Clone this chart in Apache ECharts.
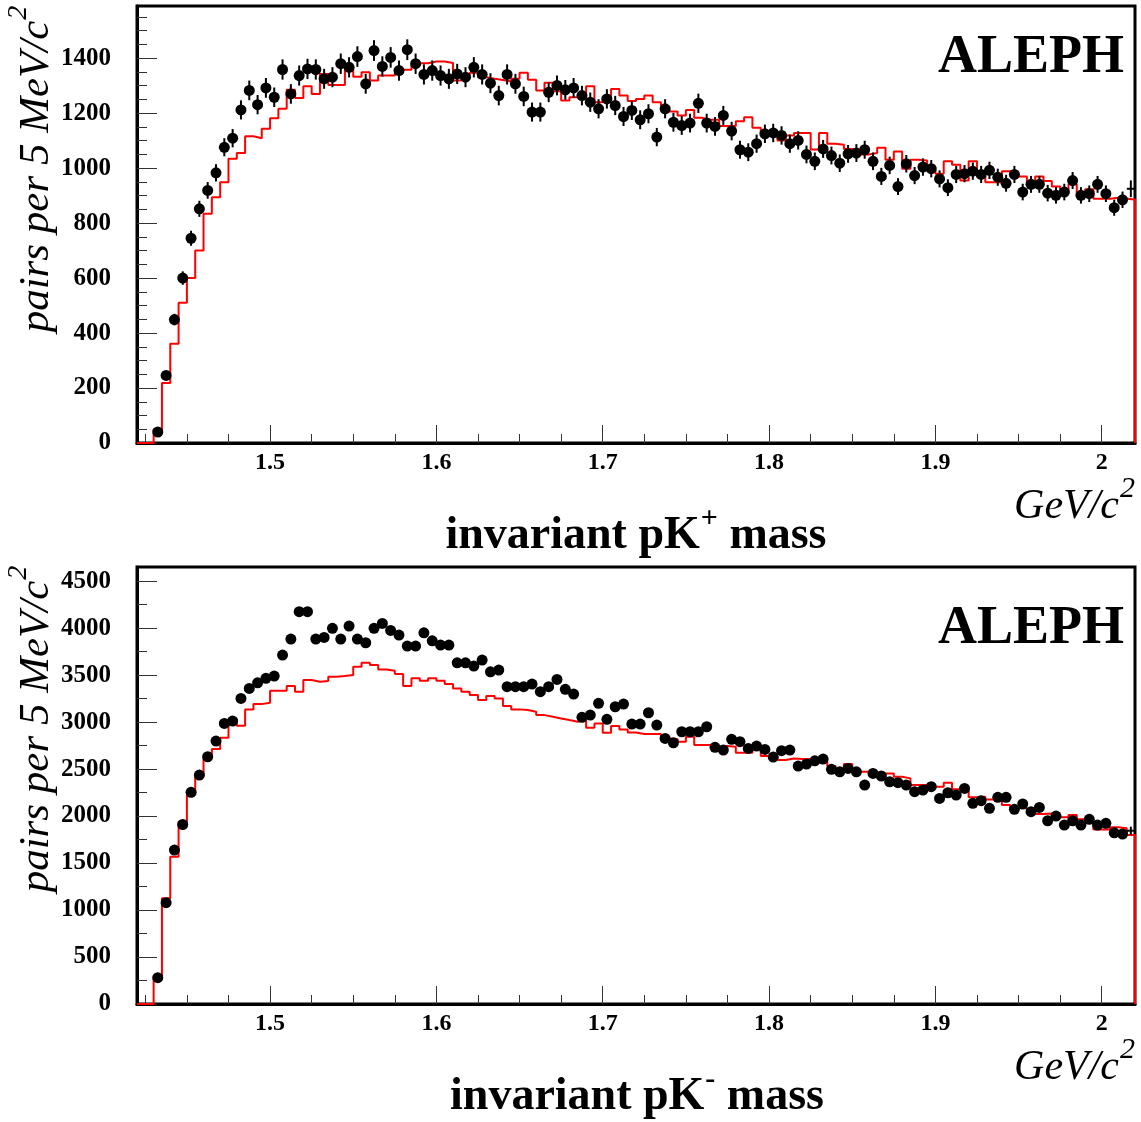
<!DOCTYPE html>
<html><head><meta charset="utf-8">
<script src="https://cdn.jsdelivr.net/npm/echarts@6/dist/echarts.min.js"></script>
<style>html,body{margin:0;padding:0;background:#fff}#c{width:1141px;height:1122px}</style>
</head><body><div id="c"></div>
<script>
// ---- data (5 MeV bins from 1.42 to 2.02 GeV/c^2) ----
const binLow = 1.42;
const binWidth = 0.005;
const xMajorTicks = [1.5, 1.6, 1.7, 1.8, 1.9, 2.0];
const topYTicks = [0, 200, 400, 600, 800, 1000, 1200, 1400];
const botYTicks = [0, 500, 1000, 1500, 2000, 2500, 3000, 3500, 4000, 4500];

const topData = [0,0,40,246,449,600,745,852,919,983,1076,1109,1212,1283,1231,1292,1258,1359,1270,1337,1361,1359,1325,1331,1380,1367,1406,1307,1428,1370,1403,1355,1431,1380,1341,1355,1337,1325,1343,1331,1367,1341,1309,1264,1341,1307,1261,1204,1204,1276,1301,1285,1292,1264,1240,1216,1252,1228,1188,1210,1176,1198,1113,1216,1167,1155,1164,1236,1164,1152,1192,1135,1067,1058,1089,1125,1128,1119,1089,1101,1050,1025,1070,1046,1018,1052,1055,1067,1025,970,1010,933,1016,973,1004,998,961,929,977,980,989,977,992,967,945,977,913,941,941,909,901,913,955,901,907,941,907,856,885,925];
const topMC = [0,0,49,218,361,510,600,700,834,894,949,1034,1055,1116,1109,1143,1182,1216,1285,1255,1298,1270,1343,1303,1303,1367,1333,1349,1319,1337,1337,1346,1358,1373,1382,1388,1388,1383,1319,1337,1347,1331,1325,1321,1315,1325,1347,1322,1283,1311,1280,1246,1258,1261,1298,1240,1261,1288,1264,1244,1252,1264,1240,1224,1206,1192,1212,1183,1176,1176,1153,1153,1171,1185,1147,1128,1121,1101,1119,1128,1128,1068,1128,1089,1085,1070,1064,1050,1055,1074,1031,1061,998,1031,1028,992,980,1025,1012,955,1025,970,949,949,989,982,970,937,970,953,933,909,941,901,923,889,889,892,889,886];
const botData = [0,0,280,1078,1638,1910,2252,2436,2631,2798,2986,3011,3252,3358,3418,3465,3489,3713,3883,4174,4174,3883,3901,3997,3883,4021,3883,3844,3997,4050,3975,3926,3809,3809,3950,3865,3819,3819,3631,3631,3596,3660,3535,3553,3376,3376,3376,3404,3323,3376,3454,3348,3298,3050,3074,3199,3029,3163,3191,2979,2979,3099,2968,2826,2780,2897,2897,2897,2950,2731,2702,2816,2791,2720,2745,2709,2628,2695,2702,2532,2553,2588,2606,2497,2471,2507,2471,2330,2454,2426,2365,2355,2330,2259,2277,2312,2188,2248,2223,2294,2135,2163,2082,2199,2199,2071,2128,2046,2092,1950,2000,1904,1950,1904,1965,1904,1922,1822,1809,1844];
const botMC = [0,0,298,1124,1567,1940,2223,2429,2631,2713,2833,3029,2961,3135,3191,3206,3333,3333,3383,3323,3447,3429,3436,3482,3489,3500,3589,3631,3606,3560,3546,3511,3383,3465,3440,3465,3440,3404,3358,3323,3287,3234,3277,3252,3170,3135,3128,3110,3074,3057,3039,3021,3004,3021,2940,2986,2887,2957,2922,2890,2872,2872,2872,2826,2816,2791,2844,2755,2755,2737,2745,2737,2674,2674,2731,2638,2640,2596,2613,2606,2606,2567,2578,2532,2497,2553,2471,2471,2454,2401,2454,2418,2401,2330,2330,2312,2312,2355,2284,2294,2199,2206,2177,2163,2117,2092,2082,2057,2021,2028,1986,1986,2011,1965,1965,1858,1858,1880,1870,1798];

// ---- helpers ----
const nBins = topData.length;
const xMin = binLow, xMax = binLow + nBins * binWidth;
function minorList(lo, hi, step) { const a = []; for (let v = lo; v <= hi + 1e-9; v += step) a.push(+v.toFixed(4)); return a; }
const xMinor = minorList(1.425, 2.02, 0.025);
const topYMinor = minorList(0, 1590, 50);
const botYMinor = minorList(0, 4650, 250);

function histLine(vals) {
  const pts = [];
  for (let i = 0; i < vals.length; i++) {
    const a = +(binLow + i * binWidth).toFixed(4), b = +(binLow + (i + 1) * binWidth).toFixed(4);
    pts.push([a, vals[i]], [b, vals[i]]);
  }
  pts.push([xMax, 0]);
  return pts;
}
function points(vals) {
  const pts = [];
  for (let i = 0; i < vals.length; i++) if (vals[i] > 0) pts.push([+(binLow + (i + 0.5) * binWidth).toFixed(5), vals[i], i]);
  return pts;
}

const FONT = '"Liberation Serif","Times New Roman",serif';
const grids = [
  { left: 137, top: 6, right: 6, height: 437 },
  { left: 137, top: 567, right: 6, height: 437 }
];
function xAxes(g) {
  return [
    { gridIndex: g, type: 'value', min: xMin, max: xMax,
      axisLine: { show: true, onZero: false, lineStyle: { color: '#000', width: 3 } },
      axisTick: { show: true, inside: true, length: 18, customValues: xMajorTicks, lineStyle: { color: '#333', width: 1 } },
      axisLabel: { show: true, customValues: xMajorTicks, color: '#000', fontFamily: FONT, fontWeight: 'bold', fontSize: 24, margin: 8,
        formatter: v => String(+v.toFixed(2)) },
      splitLine: { show: false } },
    { gridIndex: g, type: 'value', min: xMin, max: xMax, position: 'bottom',
      axisLine: { show: false },
      axisTick: { show: true, inside: true, length: 9, customValues: xMinor, lineStyle: { color: '#333', width: 1 } },
      axisLabel: { show: false }, splitLine: { show: false } }
  ];
}
function yAxes(g, max, major, minor) {
  return [
    { gridIndex: g, type: 'value', min: 0, max: max,
      axisLine: { show: true, onZero: false, lineStyle: { color: '#000', width: 3 } },
      axisTick: { show: true, inside: true, length: 20, customValues: major, lineStyle: { color: '#333', width: 1 } },
      axisLabel: { show: true, customValues: major, color: '#000', fontFamily: FONT, fontWeight: 'bold', fontSize: 25, margin: 26,
        formatter: v => String(Math.round(v)) },
      splitLine: { show: false } },
    { gridIndex: g, type: 'value', min: 0, max: max, position: 'left',
      axisLine: { show: false },
      axisTick: { show: true, inside: true, length: 10, customValues: minor, lineStyle: { color: '#333', width: 1 } },
      axisLabel: { show: false }, splitLine: { show: false } }
  ];
}

function errRender(withBars) {
  return function (params, api) {
    const x = api.value(0), y = api.value(1), idx = api.value(2);
    const e = Math.sqrt(y);
    const children = [];
    const last = idx === nBins - 1;
    if (withBars || last) {
      const p1 = api.coord([x, y + e]), p2 = api.coord([x, y - e]);
      children.push({ type: 'line', shape: { x1: p1[0], y1: p1[1], x2: p2[0], y2: p2[1] }, style: { stroke: '#000', lineWidth: 2 } });
    }
    if (last) {
      const c = api.coord([x, y]);
      children.push({ type: 'line', shape: { x1: c[0] - 4, y1: c[1], x2: c[0] + 4, y2: c[1] }, style: { stroke: '#000', lineWidth: 2 } });
    }
    return { type: 'group', children: children };
  };
}

function panelSeries(g, data, mc, bars) {
  const pts = points(data);
  return [
    { type: 'line', xAxisIndex: 2 * g, yAxisIndex: 2 * g, data: histLine(mc), showSymbol: false, symbol: 'none',
      lineStyle: { color: '#ff0000', width: 2 }, animation: false, z: 3, clip: false },
    { type: 'custom', xAxisIndex: 2 * g, yAxisIndex: 2 * g, data: pts, renderItem: errRender(bars), animation: false, z: 4,
      encode: { x: 0, y: 1 } },
    { type: 'scatter', xAxisIndex: 2 * g, yAxisIndex: 2 * g, data: pts.filter(p => p[2] !== nBins - 1), symbol: 'circle', symbolSize: 11,
      itemStyle: { color: '#000', opacity: 1 }, animation: false, z: 5 }
  ];
}

function txt(x, y, parts, align, rot) {
  return { type: 'text', x: x, y: y, rotation: rot || 0, z: 10,
    style: Object.assign({ align: align, verticalAlign: 'middle', fill: '#000' }, parts) };
}
function supRich(mainFont, mainSize, supSize, lh) {
  return {
    m: { font: mainFont + ' ' + mainSize + 'px ' + FONT, fill: '#000', lineHeight: lh, verticalAlign: 'middle' },
    s: { font: mainFont + ' ' + supSize + 'px ' + FONT, fill: '#000', verticalAlign: 'top', padding: [0, 0, 0, 1] }
  };
}

const graphics = [
  // top panel
  txt(1124, 58, { text: 'ALEPH', font: 'bold 54px ' + FONT }, 'right'),
  txt(636, 536, { text: '{m|invariant pK}{s|+}{m| mass}', rich: supRich('bold', 46, 30, 64) }, 'center'),
  txt(1135, 507, { text: '{m|GeV/c}{s|2}', rich: supRich('italic', 42, 30, 66) }, 'right'),
  txt(37, 169, { text: '{m|pairs per 5 MeV/c}{s|2}', rich: supRich('italic', 43, 28, 64) }, 'center', Math.PI / 2),
  // bottom panel
  txt(1124, 629, { text: 'ALEPH', font: 'bold 54px ' + FONT }, 'right'),
  txt(637, 1097, { text: '{m|invariant pK}{s|-}{m| mass}', rich: supRich('bold', 46, 30, 64) }, 'center'),
  txt(1135, 1068, { text: '{m|GeV/c}{s|2}', rich: supRich('italic', 42, 30, 66) }, 'right'),
  txt(37, 729, { text: '{m|pairs per 5 MeV/c}{s|2}', rich: supRich('italic', 43, 28, 64) }, 'center', Math.PI / 2)
];

const chart = echarts.init(document.getElementById('c'), null, { renderer: 'canvas' });
chart.setOption({
  animation: false,
  backgroundColor: '#fff',
  grid: grids.map(g => Object.assign({ show: true, borderColor: '#000', borderWidth: 3, backgroundColor: 'transparent', containLabel: false }, g)),
  xAxis: xAxes(0).concat(xAxes(1)),
  yAxis: yAxes(0, 1590, topYTicks, topYMinor).concat(yAxes(1, 4650, botYTicks, botYMinor)),
  series: panelSeries(0, topData, topMC, true).concat(panelSeries(1, botData, botMC, false)),
  graphic: graphics
});
</script></body></html>
